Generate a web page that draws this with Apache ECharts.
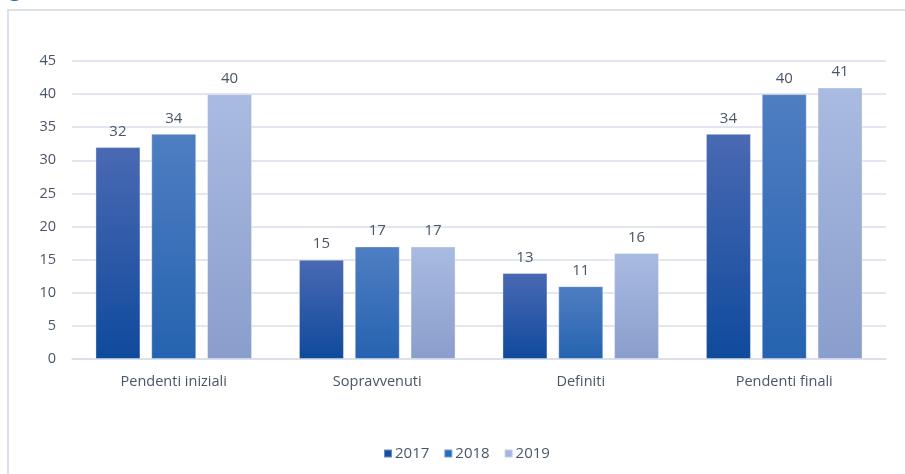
<!DOCTYPE html>
<html>
<head>
<meta charset="utf-8">
<script src="https://cdn.jsdelivr.net/npm/echarts@6/dist/echarts.min.js"></script>
<style>
html,body{margin:0;padding:0;background:#fff;}
#c{width:905px;height:474px;}
</style>
</head>
<body>
<div id="c"></div>
<script>
const categories = ['Pendenti iniziali', 'Sopravvenuti', 'Definiti', 'Pendenti finali'];
const seriesNames = ['2017', '2018', '2019'];
const values2017 = [32, 15, 13, 34];
const values2018 = [34, 17, 11, 40];
const values2019 = [40, 17, 16, 41];
const yTicks = [0, 5, 10, 15, 20, 25, 30, 35, 40, 45];

const seriesValues = [values2017, values2018, values2019];
const gradients = [
  ['#4a69b3', '#0f4a9c'],
  ['#4f7ec2', '#2563b0'],
  ['#a9bbe0', '#8a9ecd']
];
const legendColors = ['#1a4f9f', '#2a6bb8', '#a3b6dd'];
const textColor = '#4a5568';
const fontFam = '"Open Sans", "Noto Sans", sans-serif';

const chart = echarts.init(document.getElementById('c'), null, {renderer: 'canvas'});
chart.setOption({
  animation: false,
  backgroundColor: '#ffffff',
  textStyle: {fontFamily: fontFam},
  graphic: [
    {type: 'rect', shape: {x: 8, y: 10, width: 920, height: 480}, style: {fill: 'none', stroke: '#dde2ea', lineWidth: 2}, silent: true},
    {type: 'text', x: 9, y: -21, style: {text: 'g', fill: '#1f5fb0', font: '22px ' + fontFam, verticalAlign: 'top'}, silent: true}
  ],
  grid: {left: 72, right: 19, top: 61, bottom: 115, containLabel: false},
  legend: {
    bottom: 8,
    left: 378,
    itemWidth: 8,
    itemHeight: 8,
    itemGap: 14,
    icon: 'rect',
    textStyle: {color: textColor, fontSize: 15, fontFamily: fontFam, padding: [0, 0, 0, -2]},
    data: seriesNames.map((n, i) => ({name: n, itemStyle: {color: legendColors[i]}}))
  },
  xAxis: {
    type: 'category',
    data: categories,
    axisLine: {show: true, lineStyle: {color: '#d9dee8', width: 1.5}},
    axisTick: {show: false},
    axisLabel: {color: textColor, fontSize: 14.5, margin: 15, fontFamily: fontFam}
  },
  yAxis: {
    type: 'value',
    min: 0,
    max: 45,
    interval: 5,
    axisLine: {show: false},
    axisTick: {show: false},
    axisLabel: {color: textColor, fontSize: 14.5, margin: 16, fontFamily: fontFam,
      formatter: v => yTicks.includes(v) ? String(v) : ''},
    splitLine: {lineStyle: {color: '#d9dee8', width: 1.5}}
  },
  series: seriesNames.map((name, i) => ({
    name: name,
    type: 'bar',
    data: seriesValues[i],
    barWidth: 45,
    barGap: '24%',
    itemStyle: {
      color: {type: 'linear', x: 0, y: 0, x2: 0, y2: 1,
        colorStops: [{offset: 0, color: gradients[i][0]}, {offset: 1, color: gradients[i][1]}]},
      borderColor: 'rgba(255,255,255,0.35)',
      borderWidth: 1
    },
    label: {show: true, position: 'top', distance: 8, color: textColor, fontSize: 15, fontFamily: fontFam}
  }))
});
</script>
</body>
</html>
